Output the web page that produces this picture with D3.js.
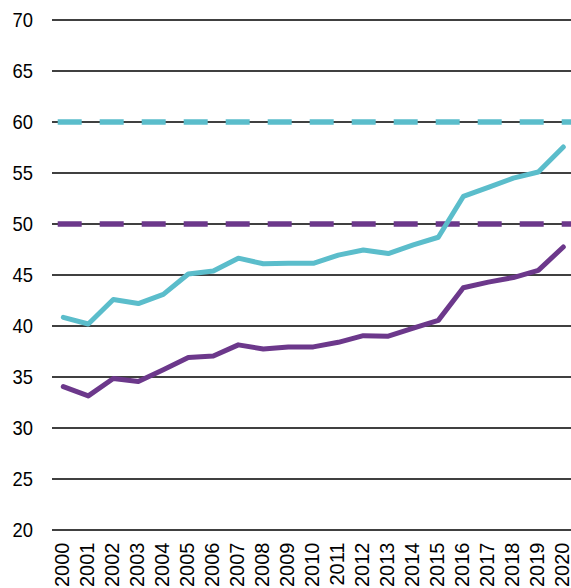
<!DOCTYPE html>
<html>
<head>
<meta charset="utf-8">
<script src="https://cdn.jsdelivr.net/npm/d3@7"></script>
<style>
  body { margin: 0; background: #fff; }
  text { font-family: "Liberation Sans", Arial, sans-serif; }
</style>
</head>
<body>
<svg id="chart" width="571" height="588"></svg>
<script>
var years = d3.range(2000, 2021);
var teal = [40.85, 40.2, 42.6, 42.2, 43.1, 45.1, 45.4, 46.65, 46.1, 46.15, 46.15,
            46.95, 47.45, 47.1, 47.95, 48.7, 52.7, 53.6, 54.5, 55.1, 57.55];
var purple = [34.05, 33.15, 34.85, 34.55, 35.7, 36.9, 37.05, 38.15, 37.75, 37.95, 37.95,
              38.4, 39.05, 39.0, 39.8, 40.55, 43.75, 44.3, 44.75, 45.45, 47.75];
var targets = [60, 50];
var yTicks = d3.range(20, 71, 5);

var svg = d3.select("#chart");
var x = d3.scalePoint().domain(years).range([63.3, 563.3]);
var y = d3.scaleLinear().domain([20, 70]).range([530, 20]);

// gridlines
svg.append("g").selectAll("line").data(yTicks).enter().append("line")
    .attr("x1", 52).attr("x2", 571)
    .attr("y1", function(d){ return y(d); })
    .attr("y2", function(d){ return y(d); })
    .attr("stroke", "#000").attr("stroke-width", 1.6);

// y labels (a bit squeezed, like the original)
svg.append("g").selectAll("text").data(yTicks).enter().append("text")
    .attr("transform", function(d){ return "translate(33," + y(d) + ") scale(0.92,1)"; })
    .attr("dy", "0.36em")
    .attr("text-anchor", "end")
    .style("font-size", "20px")
    .attr("fill", "#000")
    .text(function(d){ return d; });

// x labels, rotated
svg.append("g").selectAll("text").data(years).enter().append("text")
    .attr("transform", function(d){ return "translate(" + (x(d) - 1.5) + ",542.5) rotate(-90)"; })
    .attr("dy", "0.36em")
    .attr("text-anchor", "end")
    .style("font-size", "20px")
    .attr("fill", "#000")
    .text(function(d){ return d; });

// target dashed lines
var tColors = ["#5bbdcb", "#6c388b"];
svg.append("g").selectAll("line").data(targets).enter().append("line")
    .attr("x1", 57.7).attr("x2", 571)
    .attr("y1", function(d){ return y(d); })
    .attr("y2", function(d){ return y(d); })
    .attr("stroke", function(d, i){ return tColors[i]; })
    .attr("stroke-width", 5.5)
    .attr("stroke-dasharray", "24 18");

var line = d3.line()
    .x(function(d, i){ return x(years[i]); })
    .y(function(d){ return y(d); });

svg.append("path").datum(purple)
    .attr("d", line)
    .attr("fill", "none")
    .attr("stroke", "#6c388b")
    .attr("stroke-width", 5)
    .attr("stroke-linecap", "round")
    .attr("stroke-linejoin", "round");

svg.append("path").datum(teal)
    .attr("d", line)
    .attr("fill", "none")
    .attr("stroke", "#5bbdcb")
    .attr("stroke-width", 5)
    .attr("stroke-linecap", "round")
    .attr("stroke-linejoin", "round");
</script>
</body>
</html>
